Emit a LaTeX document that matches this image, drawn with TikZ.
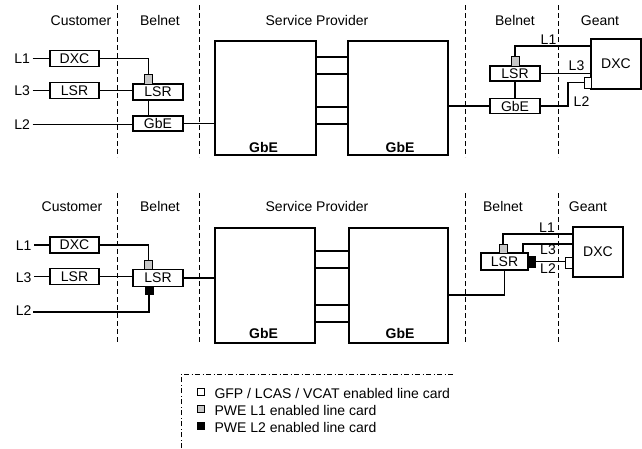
\documentclass[tikz,border=0pt]{standalone}
\usepackage{fontspec}
\setmainfont{Liberation Sans}
\begin{document}
\begin{tikzpicture}[x=1pt,y=-1pt,line width=1.1pt,
  every node/.style={font=\fontsize{14}{16}\selectfont,inner sep=0pt},
  txt/.style={anchor=base},
  lbl/.style={anchor=base east,inner xsep=2pt},
  blk/.style={draw,fill=white,minimum width=50pt,minimum height=16pt},
  spbox/.style={draw,fill=white,minimum width=101pt,minimum height=114pt},
  greycard/.style={draw,fill=black!22,minimum width=8pt,minimum height=10pt,line width=0.9pt},
  blackcard/.style={draw,fill=black,minimum width=8pt,minimum height=8pt,line width=0.9pt},
  whitecard/.style={draw,fill=white,minimum width=7pt,minimum height=11pt,line width=0.9pt},
  divider/.style={line width=0.9pt,dash pattern=on 5pt off 3pt},
  legendline/.style={line width=0.9pt,dash pattern=on 5pt off 2.5pt on 1pt off 2.5pt}]
\useasboundingbox (0,0) rectangle (642,448);

% ===================== TOP =====================
\draw[divider] (117,5) -- (117,157);
\draw[divider] (199,5) -- (199,157);
\draw[divider] (465,5) -- (465,157);
\draw[divider] (558,5) -- (558,157);
\node[txt] (thc) at (81,25) {Customer};
\node[txt] (thb) at (160,25) {Belnet};
\node[txt] (thsp) at (317,25) {Service Provider};
\node[txt] (thb2) at (515,25) {Belnet};
\node[txt] (thg) at (600,25) {Geant};

\node[lbl] (tL1) at (32.5,63.5) {L1};
\node[lbl] (tL3) at (32.5,95.5) {L3};
\node[lbl] (tL2) at (32.5,129.5) {L2};

\node[blk,minimum width=49pt] (tDXC) at (74.5,58.5) {DXC};
\node[blk,minimum width=49pt] (tLSRc) at (74.5,90.5) {LSR};
\node[blk] (tLSRb) at (158,92) {LSR};
\node[greycard] (tcard1) at (148.5,79) {};
\node[blk,minimum height=15pt] (tGbE) at (158,123.5) {GbE};

\node[spbox] (tSP1) at (265.5,98) {};
\node[spbox,minimum width=100pt] (tSP2) at (398,98) {};
\node[txt,font=\fontsize{14}{16}\selectfont\bfseries] (tSP1t) at (263.5,152) {GbE};
\node[txt,font=\fontsize{14}{16}\selectfont\bfseries] (tSP2t) at (400,152) {GbE};

\node[blk,minimum height=15pt] (tLSRr) at (515,73.5) {LSR};
\node[greycard] (tcard2) at (515,61) {};
\node[blk,minimum height=15pt] (tGbEr) at (515,106) {GbE};
\node[blk,minimum height=50pt] (tDXCg) at (616,64) {DXC};
\node[whitecard] (twcard) at (587.5,82.5) {};

\draw (tL1.east) -- (tL1.east -| tDXC.west);
\draw (tL3.east) -- (tL3.east -| tLSRc.west);
\draw (tL2.east) -- (tL2.east -| tGbE.west);
\draw (tDXC.east) -| (tcard1.north);
\draw (tLSRc.east) -- (tLSRc.east -| tLSRb.west);
\draw (tcard1.south |- tLSRb.south) -- (tcard1.south |- tGbE.north);
\draw (tGbE.east) -- (tGbE.east -| tSP1.west);
\foreach \yy in {57,74,107,124} \draw (tSP1.east |- 0,\yy) -- (tSP2.west |- 0,\yy);
\draw (tSP2.east |- tGbEr.west) -- (tGbEr.west);
\draw (tLSRr.south) -- (tGbEr.north);
\draw (tcard2.north) |- (tDXCg.west |- 0,46);
\draw (tLSRr.east) -- (tLSRr.east -| tDXCg.west);
\coordinate (tbend) at (568,106);
\draw (tGbEr.east) -- (tbend) |- (twcard.west);
\node[txt] (tl1r) at (548.5,44) {L1};
\node[txt] (tl3r) at (576.5,70) {L3};
\node[txt] (tl2r) at (581.5,106) {L2};

% ===================== BOTTOM =====================
\draw[divider] (117,193) -- (117,343);
\draw[divider] (199,193) -- (199,343);
\draw[divider] (465,193) -- (465,343);
\draw[divider] (558,193) -- (558,343);
\node[txt] (bhc) at (72,211) {Customer};
\node[txt] (bhb) at (160,211) {Belnet};
\node[txt] (bhsp) at (317,211) {Service Provider};
\node[txt] (bhb2) at (503,211) {Belnet};
\node[txt] (bhg) at (588,211) {Geant};

\node[lbl] (bL1) at (34,250) {L1};
\node[lbl] (bL3) at (34,282) {L3};
\node[lbl] (bL2) at (34,315) {L2};
\coordinate (bL2s) at (33,312);

\node[blk,minimum width=49pt] (bDXC) at (74.5,245) {DXC};
\node[blk,minimum width=49pt] (bLSRc) at (74.5,276.5) {LSR};
\node[blk,minimum height=17pt] (bLSRb) at (158,278) {LSR};
\node[greycard,minimum height=9pt] (bgcard1) at (148.5,264.5) {};
\node[blackcard] (bkcard1) at (149,290.5) {};

\node[spbox,minimum width=100pt,minimum height=115pt] (bSP1) at (265,285.5) {};
\node[spbox,minimum width=99pt,minimum height=115pt] (bSP2) at (398.5,285.5) {};
\node[txt,font=\fontsize{14}{16}\selectfont\bfseries] (bSP1t) at (263.5,338) {GbE};
\node[txt,font=\fontsize{14}{16}\selectfont\bfseries] (bSP2t) at (400,338) {GbE};

\node[blk,minimum width=47pt,minimum height=17pt] (bLSRr) at (504.5,261.5) {LSR};
\node[greycard,minimum height=9pt] (bgcard2) at (503,248.5) {};
\node[blackcard,minimum width=7pt,minimum height=11pt] (bkcard2) at (531.5,261.5) {};
\node[blk,minimum height=50pt] (bDXCg) at (598,252) {DXC};
\node[whitecard] (bwcard) at (568.5,262.5) {};

\draw (bL1.east |- bDXC.west) -- (bDXC.west);
\draw (bL3.east |- bLSRc.west) -- (bLSRc.west);
\draw (bL2s) -| (bkcard1.south);
\draw (bDXC.east) -| (bgcard1.north);
\draw (bLSRc.east) -- (bLSRc.east -| bLSRb.west);
\draw (bLSRb.east) -- (bLSRb.east -| bSP1.west);
\foreach \yy in {251,268,305,322} \draw (bSP1.east |- 0,\yy) -- (bSP2.west |- 0,\yy);
\draw (bSP2.east |- 0,295) -| (bLSRr.south);
\draw (bgcard2.north) |- (bDXCg.west |- 0,234);
\draw ([xshift=18.5pt]bLSRr.north) |- (bDXCg.west |- 0,244);
\draw (bkcard2.east) -- (bkcard2.east -| bwcard.west);
\node[txt] (bl1r) at (547,232) {L1};
\node[txt] (bl3r) at (548,254) {L3};
\node[txt] (bl2r) at (548,273) {L2};

% ===================== LEGEND =====================
\draw[legendline] (181,448) -- (181,374) -- (455,374);
\node[draw,fill=white,minimum width=7pt,minimum height=7pt,line width=0.8pt] (lg1) at (200.5,391.5) {};
\node[draw,fill=black!22,minimum width=7pt,minimum height=7pt,line width=0.8pt] (lg2) at (200.5,408.5) {};
\node[draw,fill=black,minimum width=7pt,minimum height=7pt,line width=0.8pt] (lg3) at (200.5,426) {};
\node[anchor=base west] (lt1) at (214,398) {GFP / LCAS / VCAT enabled line card};
\node[anchor=base west] (lt2) at (214,415) {PWE L1 enabled line card};
\node[anchor=base west] (lt3) at (214,432) {PWE L2 enabled line card};
\end{tikzpicture}
\end{document}
